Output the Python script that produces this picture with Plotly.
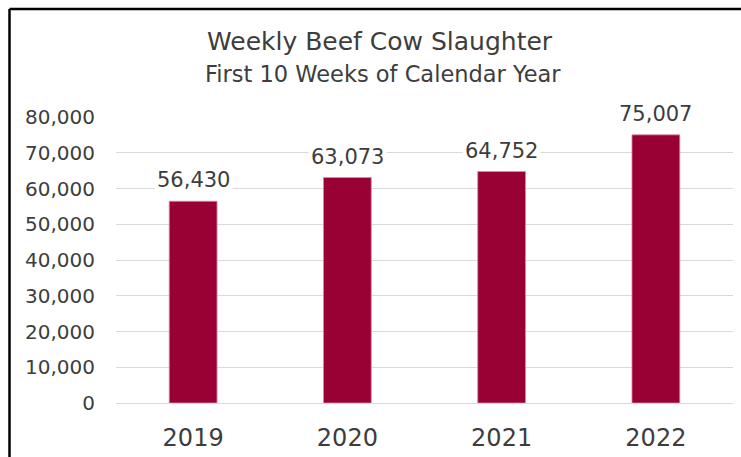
import plotly.graph_objects as go

years = ["2019", "2020", "2021", "2022"]
slaughter = [56430, 63073, 64752, 75007]
tick_vals = [0, 10000, 20000, 30000, 40000, 50000, 60000, 70000, 80000]
tick_text = ["0", "10,000", "20,000", "30,000", "40,000", "50,000", "60,000", "70,000", "80,000"]

FONT = "DejaVu Sans"
TXT = "#3d3d3d"
W, H = 741, 457
L, R, T, B = 116, 8, 117, 54
pw = W - L - R
ph = H - T - B

def px(x):
    return (x - L) / pw

def py(y):
    return (H - B - y) / ph

fig = go.Figure()
fig.add_trace(go.Bar(
    x=years, y=slaughter,
    marker=dict(color="#990033", line=dict(color="#d98ca6", width=0.8)),
    width=[0.31] * len(years),
    hoverinfo="x+y",
))

annotations = []
for i, v in enumerate(slaughter):
    annotations.append(dict(
        x=i, y=v, xref="x", yref="y", text=f"{v:,}", showarrow=False,
        yanchor="middle", yshift=21, bgcolor="white", borderpad=2,
        font=dict(family=FONT, size=21, color=TXT),
    ))
annotations.append(dict(
    x=px(380), y=py(42), xref="paper", yref="paper", text="Weekly Beef Cow Slaughter",
    showarrow=False, xanchor="center", yanchor="middle",
    font=dict(family=FONT, size=25, color=TXT),
))
annotations.append(dict(
    x=px(383), y=py(74), xref="paper", yref="paper", text="First 10 Weeks of Calendar Year",
    showarrow=False, xanchor="center", yanchor="middle",
    font=dict(family=FONT, size=22.5, color=TXT),
))

shapes = [
    dict(type="line", xref="paper", yref="paper", x0=px(9.5), x1=px(760), y0=py(9), y1=py(9),
         line=dict(color="black", width=2.5)),
    dict(type="line", xref="paper", yref="paper", x0=px(9.5), x1=px(9.5), y0=py(9), y1=py(470),
         line=dict(color="black", width=2.5)),
]

fig.update_layout(
    width=W, height=H,
    margin=dict(l=L, r=R, t=T, b=B, autoexpand=False),
    paper_bgcolor="white", plot_bgcolor="white",
    showlegend=False,
    annotations=annotations,
    shapes=shapes,
    font=dict(family=FONT, color=TXT),
)
fig.update_yaxes(
    range=[0, 80000], tickvals=tick_vals, ticktext=tick_text,
    showgrid=True, gridcolor="#d9d9d9", gridwidth=1.3,
    zeroline=True, zerolinecolor="#d9d9d9", zerolinewidth=1.3,
    showline=False, ticks="", ticklabelstandoff=20,
    tickfont=dict(family=FONT, size=20, color=TXT),
)
fig.update_xaxes(
    type="category", range=[-0.5, len(years) - 0.5],
    showline=False, showgrid=False, ticks="", ticklabelstandoff=18,
    tickfont=dict(family=FONT, size=24, color=TXT),
)

fig.write_html("out.html")
